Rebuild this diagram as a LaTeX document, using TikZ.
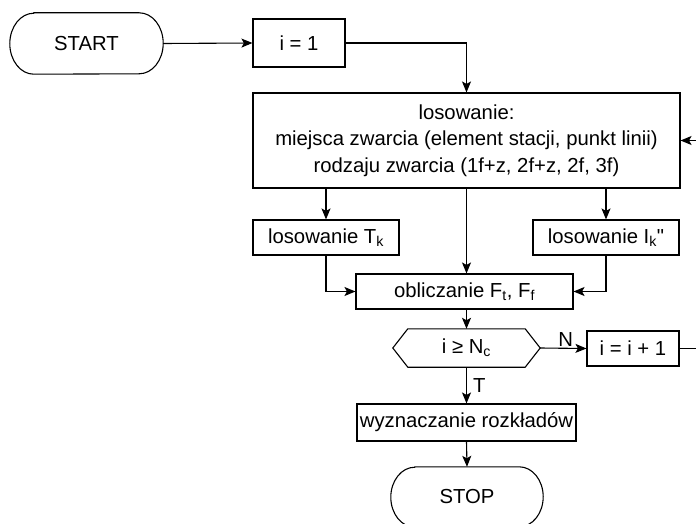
\documentclass[tikz,border=0pt]{standalone}
\usepackage{fontspec}
\setmainfont{Liberation Sans}[Ligatures=TeXOff]
\usetikzlibrary{arrows.meta}
\begin{document}
\begin{tikzpicture}[x=1pt,y=-1pt,
  every node/.style={font=\fontsize{20.3}{26.5}\selectfont, inner sep=0pt},
  box/.style={draw, line width=1.1pt, align=center},
  arr/.style={line width=1.1pt, -{Stealth[length=11pt,width=9pt,inset=2.5pt]}},
  ln/.style={line width=1.1pt}]
\useasboundingbox (0,0) rectangle (696,524);
\node[minimum width=153pt, minimum height=61pt] (start) at (86.5,43.5) {START};
\draw[ln] ([xshift=24pt]start.north west) -- ([xshift=-24pt]start.north east)
  arc[start angle=90, end angle=-90, x radius=24pt, y radius=30.5pt]
  -- ([xshift=24pt]start.south west)
  arc[start angle=270, end angle=90, x radius=24pt, y radius=30.5pt] -- cycle;
\node[box, minimum width=92pt, minimum height=48pt] (i1) at (299,43) {i = 1};
\node[box, minimum width=427pt, minimum height=95pt] (los) at (466.5,140.5)
  {losowanie:\\miejsca zwarcia (element stacji, punkt linii)\\rodzaju zwarcia (1f+z, 2f+z, 2f, 3f)};
\node[box, minimum width=146pt, minimum height=35pt] (tk) at (326,237.5) {losowanie T\textsubscript{k}};
\node[box, minimum width=146pt, minimum height=35pt] (ik) at (606,237.5) {losowanie I\textsubscript{k}"};
\node[box, minimum width=217pt, minimum height=35pt] (obl) at (464.5,291.5) {obliczanie F\textsubscript{t}, F\textsubscript{f}};
\node[minimum width=147pt, minimum height=38pt] (dec) at (466.5,348) {i ≥ N\textsubscript{c}};
\draw[ln] (dec.west) -- ([xshift=15pt]dec.north west) -- ([xshift=-15pt]dec.north east)
  -- (dec.east) -- ([xshift=-15pt]dec.south east) -- ([xshift=15pt]dec.south west) -- cycle;
\node[box, minimum width=92pt, minimum height=35pt] (inc) at (633,348.5) {i = i + 1};
\node[box, minimum width=219pt, minimum height=37pt] (wyz) at (466.5,422.5) {wyznaczanie rozkładów};
\node[minimum width=152pt, minimum height=60pt] (stop) at (467,497) {STOP};
\draw[ln] ([xshift=24pt]stop.north west) -- ([xshift=-24pt]stop.north east)
  arc[start angle=90, end angle=-90, x radius=24pt, y radius=30pt]
  -- ([xshift=24pt]stop.south west)
  arc[start angle=270, end angle=90, x radius=24pt, y radius=30pt] -- cycle;
\coordinate (lp) at (702,140.5);
% connectors
\draw[arr] (start.east) -- (i1.west);
\draw[arr] (i1.east) -| (los.north);
\draw[arr] (los.south) -- (obl.north -| los.south);
\draw[arr] (los.south -| tk.north) -- (tk.north);
\draw[arr] (los.south -| ik.north) -- (ik.north);
\draw[arr] (tk.south) |- (obl.west);
\draw[arr] (ik.south) |- (obl.east);
\draw[arr] (obl.south -| dec.north) -- (dec.north);
\draw[arr] (dec.east) -- (inc.west) node[pos=0.55, above=1pt] {N};
\draw[arr] (dec.south) -- (wyz.north) node[midway, right=6pt] {T};
\draw[arr] (wyz.south) -- (stop.north);
\draw[arr] (inc.east) -- (inc.east -| lp) -- (lp) -- (los.east);
\end{tikzpicture}
\end{document}
